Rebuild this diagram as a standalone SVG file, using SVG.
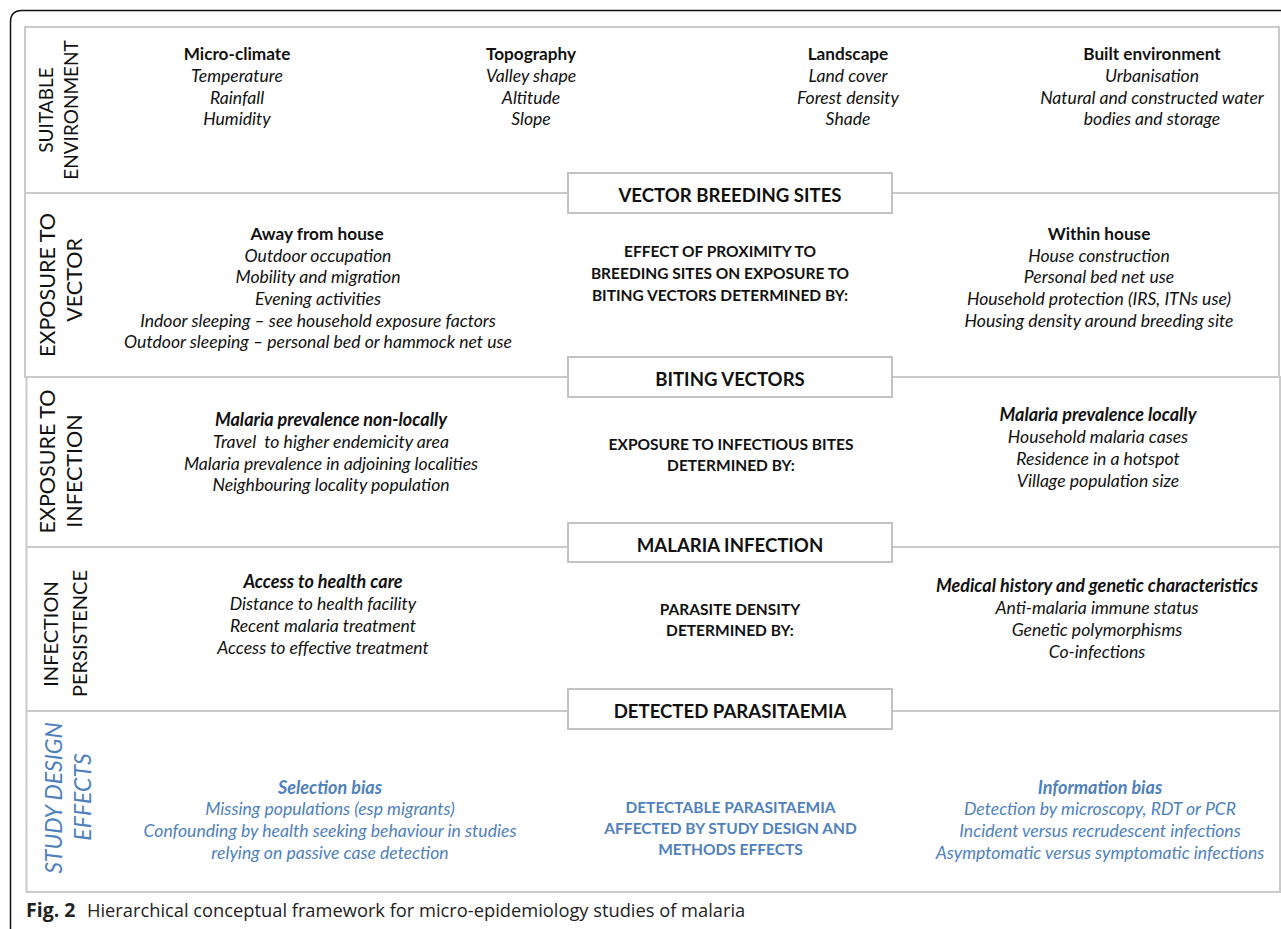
<svg xmlns="http://www.w3.org/2000/svg" width="1281" height="929" viewBox="0 0 1281 929">
<style>
  .band { fill: #ffffff; stroke: #cacaca; stroke-width: 2; }
  .box { fill: #ffffff; stroke: #c2c2c2; stroke-width: 2; }
  text { font-family: Lato, "Liberation Sans", sans-serif; fill: #111111; text-anchor: middle; }
  .h { font-size: 17.2px; font-weight: bold; }
  .i { font-size: 17.6px; font-style: italic; }
  .bi { font-size: 18px; font-style: italic; font-weight: bold; }
  .c { font-size: 15.5px; font-weight: bold; }
  .t { font-size: 18.6px; font-weight: bold; }
  .v1 { font-size: 19px; }
  .v2 { font-size: 21.5px; }
  .v4 { font-size: 20px; }
  .v5 { font-size: 23px; font-style: italic; }
  .blue { fill: #4f81bd; }
  .cap { font-family: "Open Sans", "Liberation Sans", sans-serif; font-size: 18.3px; text-anchor: start; fill: #222222; }
</style>
<rect x="0" y="0" width="1281" height="929" fill="#ffffff"/>
<path d="M10.5,929 V22 Q10.5,10.5 22,10.5 H1281" fill="none" stroke="#111111" stroke-width="1.5"/>

<g id="bands">
  <rect class="band" x="25" y="27" width="1254" height="166"/>
  <rect class="band" x="25" y="193" width="1254" height="184"/>
  <rect class="band" x="26.5" y="377" width="1253.5" height="170"/>
  <rect class="band" x="26.5" y="547" width="1253.5" height="164"/>
  <rect class="band" x="26.5" y="711" width="1253.5" height="181"/>
</g>

<g id="suitable-environment">
  <text class="v1" transform="translate(53,110) rotate(-90)">SUITABLE</text>
  <text class="v1" transform="translate(78,110) rotate(-90)">ENVIRONMENT</text>
  <g id="micro-climate" transform="translate(0,1)">
    <text class="h" x="237" y="59">Micro-climate</text>
    <text class="i" x="237" y="81">Temperature</text>
    <text class="i" x="237" y="102.5">Rainfall</text>
    <text class="i" x="237" y="124">Humidity</text>
  </g>
  <g id="topography" transform="translate(0,1)">
    <text class="h" x="531" y="59">Topography</text>
    <text class="i" x="531" y="81">Valley shape</text>
    <text class="i" x="531" y="102.5">Altitude</text>
    <text class="i" x="531" y="124">Slope</text>
  </g>
  <g id="landscape" transform="translate(0,1)">
    <text class="h" x="848" y="59">Landscape</text>
    <text class="i" x="848" y="81">Land cover</text>
    <text class="i" x="848" y="102.5">Forest density</text>
    <text class="i" x="848" y="124">Shade</text>
  </g>
  <g id="built-environment" transform="translate(0,1)">
    <text class="h" x="1152" y="59">Built environment</text>
    <text class="i" x="1152" y="81">Urbanisation</text>
    <text class="i" x="1152" y="102.5">Natural and constructed water</text>
    <text class="i" x="1152" y="124">bodies and storage</text>
  </g>
</g>

<g id="vector-breeding-sites">
  <rect class="box" x="568" y="173" width="324" height="40"/>
  <text class="t" x="730" y="201.5">VECTOR BREEDING SITES</text>
</g>

<g id="exposure-to-vector">
  <text class="v2" transform="translate(55,285) rotate(-90)">EXPOSURE TO</text>
  <text class="v2" transform="translate(82,280) rotate(-90)">VECTOR</text>
  <g id="away-from-house" transform="translate(0,1.5)">
    <text class="h" x="317" y="238">Away from house</text>
    <text class="i" x="318" y="260">Outdoor occupation</text>
    <text class="i" x="318" y="281.5">Mobility and migration</text>
    <text class="i" x="318" y="303">Evening activities</text>
    <text class="i" x="318" y="325">Indoor sleeping – see household exposure factors</text>
    <text class="i" x="318" y="346.5">Outdoor sleeping – personal bed or hammock net use</text>
  </g>
  <g id="proximity-effect">
    <text class="c" x="720" y="257">EFFECT OF PROXIMITY TO</text>
    <text class="c" x="720" y="279">BREEDING SITES ON EXPOSURE TO</text>
    <text class="c" x="720" y="301">BITING VECTORS DETERMINED BY:</text>
  </g>
  <g id="within-house" transform="translate(0,1.5)">
    <text class="h" x="1099" y="238">Within house</text>
    <text class="i" x="1099" y="260">House construction</text>
    <text class="i" x="1099" y="281.5">Personal bed net use</text>
    <text class="i" x="1099" y="303">Household protection (IRS, ITNs use)</text>
    <text class="i" x="1099" y="325">Housing density around breeding site</text>
  </g>
</g>

<g id="biting-vectors">
  <rect class="box" x="568" y="357" width="324" height="40"/>
  <text class="t" x="730" y="385.5">BITING VECTORS</text>
</g>

<g id="exposure-to-infection">
  <text class="v2" transform="translate(55,461.5) rotate(-90)">EXPOSURE TO</text>
  <text class="v2" transform="translate(82,471) rotate(-90)">INFECTION</text>
  <g id="prevalence-non-locally" transform="translate(0,1.5)">
    <text class="bi" x="331" y="424">Malaria prevalence non-locally</text>
    <text class="i" x="331" y="446" xml:space="preserve">Travel  to higher endemicity area</text>
    <text class="i" x="331" y="468">Malaria prevalence in adjoining localities</text>
    <text class="i" x="331" y="489">Neighbouring locality population</text>
  </g>
  <g id="infectious-bites">
    <text class="c" x="731" y="450">EXPOSURE TO INFECTIOUS BITES</text>
    <text class="c" x="731" y="471">DETERMINED BY:</text>
  </g>
  <g id="prevalence-locally" transform="translate(0,1.5)">
    <text class="bi" x="1098" y="419">Malaria prevalence locally</text>
    <text class="i" x="1098" y="441">Household malaria cases</text>
    <text class="i" x="1098" y="463">Residence in a hotspot</text>
    <text class="i" x="1098" y="485">Village population size</text>
  </g>
</g>

<g id="malaria-infection">
  <rect class="box" x="568" y="523" width="324" height="39"/>
  <text class="t" x="730" y="551.5">MALARIA INFECTION</text>
</g>

<g id="infection-persistence">
  <text class="v4" transform="translate(58,634) rotate(-90)">INFECTION</text>
  <text class="v4" transform="translate(87,633.5) rotate(-90)">PERSISTENCE</text>
  <g id="access-to-health-care" transform="translate(0,1.5)">
    <text class="bi" x="323" y="586">Access to health care</text>
    <text class="i" x="323" y="608">Distance to health facility</text>
    <text class="i" x="323" y="630">Recent malaria treatment</text>
    <text class="i" x="323" y="652">Access to effective treatment</text>
  </g>
  <g id="parasite-density">
    <text class="c" x="730" y="615">PARASITE DENSITY</text>
    <text class="c" x="730" y="636">DETERMINED BY:</text>
  </g>
  <g id="medical-history" transform="translate(0,1.5)">
    <text class="bi" x="1097" y="590">Medical history and genetic characteristics</text>
    <text class="i" x="1097" y="612">Anti-malaria immune status</text>
    <text class="i" x="1097" y="634">Genetic polymorphisms</text>
    <text class="i" x="1097" y="656">Co-infections</text>
  </g>
</g>

<g id="detected-parasitaemia">
  <rect class="box" x="568" y="689" width="324" height="40"/>
  <text class="t" x="730" y="717.5">DETECTED PARASITAEMIA</text>
</g>

<g id="study-design-effects">
  <text class="v5 blue" transform="translate(62,798) rotate(-90)">STUDY DESIGN</text>
  <text class="v5 blue" transform="translate(91,797) rotate(-90)">EFFECTS</text>
  <g id="selection-bias" transform="translate(0,1.5)">
    <text class="bi blue" x="330" y="792">Selection bias</text>
    <text class="i blue" x="330" y="813">Missing populations (esp migrants)</text>
    <text class="i blue" x="330" y="835">Confounding by health seeking behaviour in studies</text>
    <text class="i blue" x="330" y="857">relying on passive case detection</text>
  </g>
  <g id="detectable-parasitaemia">
    <text class="c blue" x="730.5" y="812.5">DETECTABLE PARASITAEMIA</text>
    <text class="c blue" x="730.5" y="834">AFFECTED BY STUDY DESIGN AND</text>
    <text class="c blue" x="730.5" y="855">METHODS EFFECTS</text>
  </g>
  <g id="information-bias" transform="translate(0,1.5)">
    <text class="bi blue" x="1100" y="792">Information bias</text>
    <text class="i blue" x="1100" y="813">Detection by microscopy, RDT or PCR</text>
    <text class="i blue" x="1100" y="835">Incident versus recrudescent infections</text>
    <text class="i blue" x="1100" y="857">Asymptomatic versus symptomatic infections</text>
  </g>
</g>

<g id="caption">
  <text class="cap" y="917"><tspan x="26" font-weight="bold" font-size="19.5px">Fig. 2</tspan><tspan x="87">Hierarchical conceptual framework for micro-epidemiology studies of malaria</tspan></text>
</g>
</svg>
